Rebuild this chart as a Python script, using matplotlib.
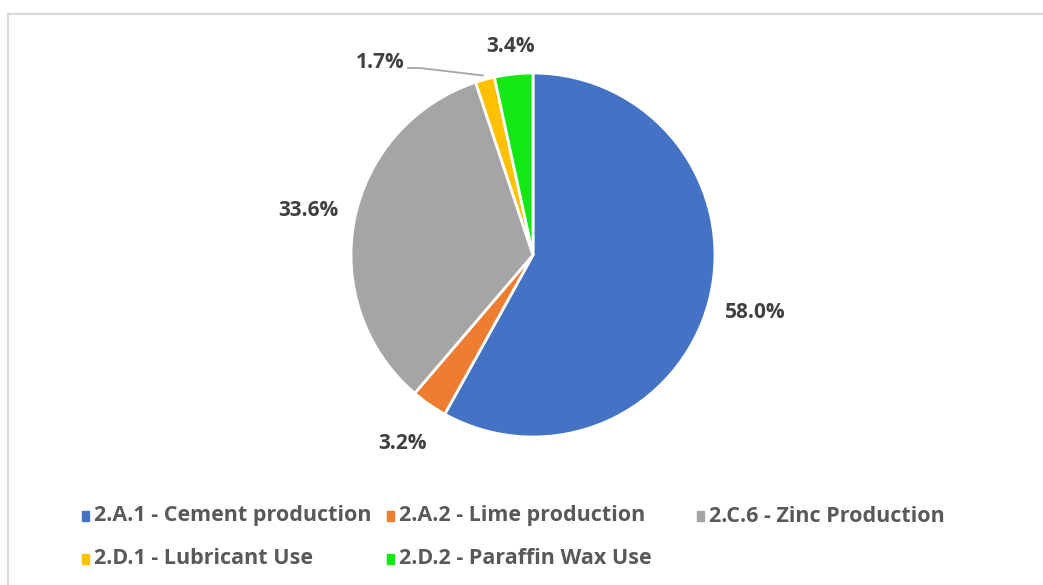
import numpy as np
import matplotlib
matplotlib.use("Agg")
import matplotlib.pyplot as plt
from matplotlib.patches import Rectangle

categories = ["2.A.1 - Cement production", "2.A.2 - Lime production", "2.C.6 - Zinc Production",
              "2.D.1 - Lubricant Use", "2.D.2 - Paraffin Wax Use"]
shares = [58.0, 3.2, 33.6, 1.7, 3.4]
colors = ["#4472C4", "#ED7D31", "#A5A5A5", "#FFC000", "#13E813"]

W, H = 1043, 585
plt.rcParams["font.family"] = ["Open Sans", "DejaVu Sans"]
fig = plt.figure(figsize=(W / 100, H / 100), dpi=100)
ax = fig.add_axes([0, 0, 1, 1])

cx, cy, r = 533, H - 255, 182
wedges, _ = ax.pie(shares, colors=colors, startangle=90, counterclock=False, center=(cx, cy),
                   radius=r, wedgeprops=dict(edgecolor="white", linewidth=2))
ax.set_xlim(0, W); ax.set_ylim(0, H); ax.set_aspect("equal"); ax.axis("off")

# chart frame (cropped on right/bottom)
ax.add_patch(Rectangle((8, -10), W + 20, H - 14 + 10, fill=False, ec="#D9D9D9", lw=1.5))

# data labels
dist = [1.26, 1.26, 1.26, None, 1.15]
for w, s, d in zip(wedges, shares, dist):
    if d is None:
        continue
    a = np.deg2rad((w.theta1 + w.theta2) / 2)
    ax.text(cx + d * r * np.cos(a), cy + d * r * np.sin(a), f"{s:.1f}%", ha="center", va="center",
            fontsize=15, fontweight="bold", color="#404040")

# small slice with leader line
w = wedges[3]
a = np.deg2rad((w.theta1 + w.theta2) / 2)
ex, ey = cx + r * np.cos(a), cy + r * np.sin(a)
tx, ty = 380, H - 62
ax.plot([tx + 28, tx + 40, ex - 2], [ty - 6, ty - 6, ey + 4], color="#A5A5A5", lw=1.3)
ax.text(tx, ty, f"{shares[3]:.1f}%", ha="center", va="center", fontsize=15, fontweight="bold",
        color="#404040")

# legend, row-wise in three equal columns
col_x = [85, 390, 700]
row_y = [H - 516, H - 559]
for i, (lab, c) in enumerate(zip(categories, colors)):
    x, y = col_x[i % 3], row_y[i // 3]
    ax.add_patch(Rectangle((x - 3, y - 5), 7, 10, color=c))
    ax.text(x + 9, y, lab, ha="left", va="center", fontsize=15.5, fontweight="bold", color="#595959")

fig.savefig("out.png", dpi=100, facecolor="white")
